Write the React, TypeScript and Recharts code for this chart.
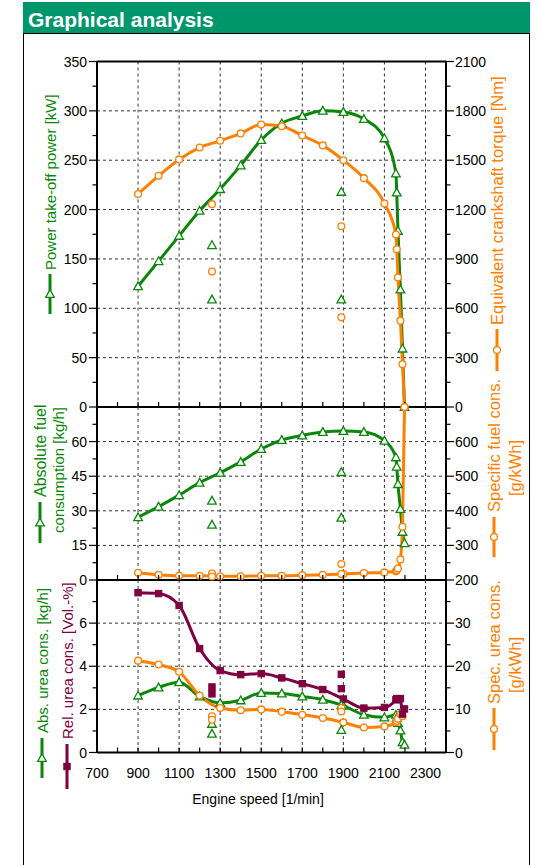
import React from 'react';
import { ComposedChart, Line, XAxis, YAxis, CartesianGrid, ReferenceLine } from 'recharts';

const FONT = '"Liberation Sans", Arial, Helvetica, sans-serif';
const GREEN = '#0A870A';
const ORANGE = '#FF8000';
const PURPLE = '#7F0040';
const HEADER = '#00966C';

// ---- main measurement series (full-load curve) ----
const rpm = [900, 1000, 1100, 1200, 1300, 1400, 1500, 1600, 1700, 1800, 1900, 2000, 2100, 2156, 2160, 2166, 2178, 2188, 2198];
const powerKw = [122.4, 147.8, 173.4, 198.8, 220.8, 244.8, 270.5, 287.4, 294.8, 300.2, 298.9, 291.8, 272.2, 236.7, 217.4, 178.5, 119, 59.2, 0];
const torqueNm = [1295, 1405, 1505, 1577, 1618, 1663, 1717, 1707, 1650, 1590, 1500, 1391, 1237, 1048, 959, 787, 525, 260, 0];
const absFuel = [27.2, 31.8, 36.8, 42.2, 46.5, 51.2, 56.8, 60.7, 62.7, 64.2, 64.6, 64.2, 60.4, 53.2, 49.1, 41.6, 30.8, 20.9, 16];
const specFuel = [221, 215, 212, 212, 211, 211, 212, 212, 213.5, 215, 217, 220, 222, 225, 228, 233, 259, 354, 700];
const absUrea = [2.64, 3.02, 3.26, 2.6, 2.3, 2.42, 2.76, 2.74, 2.6, 2.45, 2.17, 1.75, 1.63, 1.75, 1.6, 1.37, 1.02, 0.48, 0.36];
const relUrea = [7.41, 7.37, 6.82, 4.82, 3.8, 3.61, 3.66, 3.46, 3.19, 2.92, 2.48, 2.06, 2.09, 2.45, 2.5, 2.45, 2.5, 1.78, 2.02];
const specUrea = [21.3, 20.4, 18.7, 13.2, 10.3, 9.8, 10.0, 9.47, 8.77, 8.0, 6.98, 5.81, 6.05, 7.0, 7.3, 7.8, 8.9, 8.4, null];

// ---- part-load single points ----
const sideRpm = [1260, 1260, 1890, 1890];
const sidePower = [164, 109, 218, 109];
const sideTorque = [1233, 823, 1099, 545];
const sideAbsFuel = [34.4, 24.0, 46.8, 27.0];
const sideSpecFuel = [219, 210, 246, 217];
const sideAbsUrea = [1.33, 0.87, 2.2, 1.05];
const sideRelUrea = [3.04, 2.72, 3.63, 2.96];
const sideSpecUrea = [8.4, 7.6, 10.3, 9.5];

// ---- axes ----
const xTicks = [700, 800, 900, 1000, 1100, 1200, 1300, 1400, 1500, 1600, 1700, 1800, 1900, 2000, 2100, 2200, 2300, 2400];
const xLabels = [700, 900, 1100, 1300, 1500, 1700, 1900, 2100, 2300];
const xGrid = [900, 1100, 1300, 1500, 1700, 1900, 2100, 2300];

const topLTicks = [0, 25, 50, 75, 100, 125, 150, 175, 200, 225, 250, 275, 300, 325, 350];
const topLLabels = [0, 50, 100, 150, 200, 250, 300, 350];
const topLGrid = [50, 100, 150, 200, 250, 300];
const topRTicks = [0, 150, 300, 450, 600, 750, 900, 1050, 1200, 1350, 1500, 1650, 1800, 1950, 2100];
const topRLabels = [0, 300, 600, 900, 1200, 1500, 1800, 2100];

const midLTicks = [0, 7.5, 15, 22.5, 30, 37.5, 45, 52.5, 60, 67.5];
const midLLabels = [0, 15, 30, 45, 60];
const midLGrid = [15, 30, 45, 60];
const midRTicks = [200, 250, 300, 350, 400, 450, 500, 550, 600, 650];
const midRLabels = [200, 300, 400, 500, 600];

const botLTicks = [0, 1, 2, 3, 4, 5, 6, 7];
const botLLabels = [0, 2, 4, 6];
const botLGrid = [2, 4, 6];
const botRTicks = [0, 5, 10, 15, 20, 25, 30, 35];
const botRLabels = [0, 10, 20, 30];

const rows = rpm.map((r, i) => ({
  rpm: r,
  power: powerKw[i],
  torque: torqueNm[i],
  absFuel: absFuel[i],
  specFuel: specFuel[i],
  absUrea: absUrea[i],
  relUrea: relUrea[i],
  specUrea: specUrea[i],
}));
const sideRows = sideRpm.map((r, i) => ({
  rpm: r,
  power: sidePower[i],
  torque: sideTorque[i],
  absFuel: sideAbsFuel[i],
  specFuel: sideSpecFuel[i],
  absUrea: sideAbsUrea[i],
  relUrea: sideRelUrea[i],
  specUrea: sideSpecUrea[i],
}));

const W = 538;
const LEFT_W = 97;
const RIGHT_W = 92;

const bad = (p: any) => p == null || p.cx == null || p.cy == null || isNaN(p.cx) || isNaN(p.cy);

function triangle(cx: number, cy: number, color: string, key?: any) {
  const s = 4.3;
  return (
    <path key={key} d={`M${cx},${cy - s}L${cx + s},${cy + s * 0.8}L${cx - s},${cy + s * 0.8}Z`} fill="#fff" stroke={color} strokeWidth={1.3} />
  );
}
function circle(cx: number, cy: number, color: string, key?: any) {
  return <circle key={key} cx={cx} cy={cy} r={3.4} fill="#fff" stroke={color} strokeWidth={1.3} />;
}
function square(cx: number, cy: number, color: string, key?: any) {
  return <rect key={key} x={cx - 3.2} y={cy - 3.2} width={6.4} height={6.4} fill={color} stroke={color} />;
}

const triDot = (color: string) => (p: any) => (bad(p) ? <g key={`n${p.index}`} /> : triangle(p.cx, p.cy, color, `t${p.index}`));
const cirDot = (color: string) => (p: any) => (bad(p) ? <g key={`n${p.index}`} /> : circle(p.cx, p.cy, color, `c${p.index}`));
const sqDot = (color: string) => (p: any) => (bad(p) ? <g key={`n${p.index}`} /> : square(p.cx, p.cy, color, `s${p.index}`));

const yTick = (side: 'L' | 'R', labels: number[]) => (p: any) => {
  const v = p.payload.value;
  const major = labels.includes(v);
  const len = major ? 8 : 4.5;
  const x2 = side === 'L' ? p.x - len : p.x + len;
  return (
    <g>
      <line x1={p.x} y1={p.y} x2={x2} y2={p.y} stroke="#000" strokeWidth={1.2} />
      {major && (
        <text
          x={side === 'L' ? p.x - 10 : p.x + 9}
          y={p.y}
          dy="0.36em"
          textAnchor={side === 'L' ? 'end' : 'start'}
          fontSize={14}
          fontFamily={FONT}
          fill="#000"
        >
          {v}
        </text>
      )}
    </g>
  );
};

const xTick = (withLabels: boolean) => (p: any) => {
  const v = p.payload.value;
  const showLine = v !== 700 && v !== 2400;
  return (
    <g>
      {showLine && <line x1={p.x} y1={p.y} x2={p.x} y2={p.y - 5} stroke="#000" strokeWidth={1.2} />}
      {withLabels && xLabels.includes(v) && (
        <text x={p.x} y={p.y + 25} textAnchor="middle" fontSize={14} fontFamily={FONT} fill="#000">
          {v}
        </text>
      )}
    </g>
  );
};

const axisLine = { stroke: '#000', strokeWidth: 2 };
const gridProps = { stroke: '#333', strokeDasharray: '3 3', strokeWidth: 1 };

function XA({ labels }: { labels: boolean }) {
  return (
    <XAxis
      type="number"
      dataKey="rpm"
      domain={[700, 2400]}
      ticks={xTicks}
      interval={0}
      height={1}
      tickSize={0}
      tickMargin={0}
      axisLine={axisLine}
      tickLine={false}
      tick={xTick(labels)}
      allowDecimals
    />
  );
}

function TopPanel() {
  return (
    <ComposedChart width={W} height={425} data={rows} margin={{ top: 61.5, right: 0, bottom: 17, left: 0 }}>
      <CartesianGrid yAxisId="L" {...gridProps} horizontalValues={topLGrid} verticalValues={xGrid} />
      {XA({ labels: false })}
      <YAxis yAxisId="L" type="number" domain={[0, 350]} ticks={topLTicks} interval={0} width={LEFT_W} tickSize={0} tickMargin={0} axisLine={axisLine} tickLine={false} tick={yTick('L', topLLabels)} />
      <YAxis yAxisId="R" orientation="right" type="number" domain={[0, 2100]} ticks={topRTicks} interval={0} width={RIGHT_W} tickSize={0} tickMargin={0} axisLine={axisLine} tickLine={false} tick={yTick('R', topRLabels)} />
      <ReferenceLine yAxisId="L" y={350} stroke="#000" strokeWidth={2} />
      <Line yAxisId="L" dataKey="power" type="monotone" stroke={GREEN} strokeWidth={3} dot={triDot(GREEN)} activeDot={false} isAnimationActive={false} />
      <Line yAxisId="R" dataKey="torque" type="monotone" stroke={ORANGE} strokeWidth={3} dot={cirDot(ORANGE)} activeDot={false} isAnimationActive={false} />
      <Line yAxisId="L" data={sideRows} dataKey="power" stroke="none" dot={triDot(GREEN)} activeDot={false} isAnimationActive={false} />
      <Line yAxisId="R" data={sideRows} dataKey="torque" stroke="none" dot={cirDot(ORANGE)} activeDot={false} isAnimationActive={false} />
    </ComposedChart>
  );
}

function MidPanel() {
  return (
    <ComposedChart width={W} height={200} data={rows} margin={{ top: 17, right: 0, bottom: 9, left: 0 }}>
      <CartesianGrid yAxisId="L" {...gridProps} horizontalValues={midLGrid} verticalValues={xGrid} />
      {XA({ labels: false })}
      <YAxis yAxisId="L" type="number" domain={[0, 75]} ticks={midLTicks} interval={0} width={LEFT_W} tickSize={0} tickMargin={0} axisLine={axisLine} tickLine={false} tick={yTick('L', midLLabels)} />
      <YAxis yAxisId="R" orientation="right" type="number" domain={[200, 700]} ticks={midRTicks} interval={0} width={RIGHT_W} tickSize={0} tickMargin={0} axisLine={axisLine} tickLine={false} tick={yTick('R', midRLabels)} />
      <Line yAxisId="L" dataKey="absFuel" type="monotone" stroke={GREEN} strokeWidth={3} dot={triDot(GREEN)} activeDot={false} isAnimationActive={false} />
      <Line yAxisId="R" dataKey="specFuel" type="monotone" stroke={ORANGE} strokeWidth={3} dot={cirDot(ORANGE)} activeDot={false} isAnimationActive={false} />
      <Line yAxisId="L" data={sideRows} dataKey="absFuel" stroke="none" dot={triDot(GREEN)} activeDot={false} isAnimationActive={false} />
      <Line yAxisId="R" data={sideRows} dataKey="specFuel" stroke="none" dot={cirDot(ORANGE)} activeDot={false} isAnimationActive={false} />
    </ComposedChart>
  );
}

function BotPanel() {
  return (
    <ComposedChart width={W} height={295} data={rows} margin={{ top: 10, right: 0, bottom: 111.5, left: 0 }}>
      <CartesianGrid yAxisId="L" {...gridProps} horizontalValues={botLGrid} verticalValues={xGrid} />
      {XA({ labels: true })}
      <YAxis yAxisId="L" type="number" domain={[0, 8]} ticks={botLTicks} interval={0} width={LEFT_W} tickSize={0} tickMargin={0} axisLine={axisLine} tickLine={false} tick={yTick('L', botLLabels)} />
      <YAxis yAxisId="R" orientation="right" type="number" domain={[0, 40]} ticks={botRTicks} interval={0} width={RIGHT_W} tickSize={0} tickMargin={0} axisLine={axisLine} tickLine={false} tick={yTick('R', botRLabels)} />
      <Line yAxisId="L" dataKey="absUrea" type="monotone" stroke={GREEN} strokeWidth={3} dot={triDot(GREEN)} activeDot={false} isAnimationActive={false} />
      <Line yAxisId="R" dataKey="specUrea" type="monotone" stroke={ORANGE} strokeWidth={3} dot={cirDot(ORANGE)} activeDot={false} isAnimationActive={false} connectNulls={false} />
      <Line yAxisId="L" dataKey="relUrea" type="monotone" stroke={PURPLE} strokeWidth={3} dot={sqDot(PURPLE)} activeDot={false} isAnimationActive={false} />
      <Line yAxisId="L" data={sideRows} dataKey="absUrea" stroke="none" dot={triDot(GREEN)} activeDot={false} isAnimationActive={false} />
      <Line yAxisId="R" data={sideRows} dataKey="specUrea" stroke="none" dot={cirDot(ORANGE)} activeDot={false} isAnimationActive={false} />
      <Line yAxisId="L" data={sideRows} dataKey="relUrea" stroke="none" dot={sqDot(PURPLE)} activeDot={false} isAnimationActive={false} />
    </ComposedChart>
  );
}

type TitleProps = {
  x: number;
  y: number;
  len: number;
  gap: number;
  color: string;
  text: string;
  marker: 'tri' | 'cir' | 'sq';
  size?: number;
};

function AxisTitle({ x, y, len, gap, color, text, marker, size = 15 }: TitleProps) {
  const my = y - len / 2;
  return (
    <g>
      <line x1={x} y1={y} x2={x} y2={y - len} stroke={color} strokeWidth={3} />
      {marker === 'tri' && triangle(x, my, color)}
      {marker === 'cir' && circle(x, my, color)}
      {marker === 'sq' && square(x, my, color)}
      <text
        transform={`translate(${x},${y - len - gap}) rotate(-90)`}
        x={0}
        y={0}
        dominantBaseline="central"
        fill={color}
        fontSize={size}
        fontFamily={FONT}
      >
        {text}
      </text>
    </g>
  );
}

function PlainTitle({ x, cy, color, text, size = 15 }: { x: number; cy: number; color: string; text: string; size?: number }) {
  return (
    <text
      transform={`translate(${x},${cy}) rotate(-90)`}
      x={0}
      y={0}
      dominantBaseline="central"
      textAnchor="middle"
      fill={color}
      fontSize={size}
      fontFamily={FONT}
    >
      {text}
    </text>
  );
}

export default function App() {
  return (
    <div style={{ position: 'absolute', left: 0, top: 0, width: 538, height: 865, background: '#fff', overflow: 'hidden' }}>
      <svg width={538} height={865} style={{ position: 'absolute', left: 0, top: 0 }}>
        <rect x={23} y={2} width={507} height={31} fill={HEADER} />
        <text x={28} y={27} fill="#fff" fontSize={21} fontWeight="bold" fontFamily={FONT}>
          Graphical analysis
        </text>
        <rect x={23.5} y={33.5} width={506} height={900} fill="none" stroke="#000" strokeWidth={1} />
      </svg>
      <div style={{ position: 'absolute', left: 0, top: 0 }}>
        <TopPanel />
      </div>
      <div style={{ position: 'absolute', left: 0, top: 390 }}>
        <MidPanel />
      </div>
      <div style={{ position: 'absolute', left: 0, top: 570 }}>
        <BotPanel />
      </div>
      <svg width={538} height={865} style={{ position: 'absolute', left: 0, top: 0, pointerEvents: 'none' }}>
        <AxisTitle x={50} y={314} len={40} gap={4} color={GREEN} text="Power take-off power [kW]" marker="tri" />
        <AxisTitle x={497} y={371} len={42} gap={4} color={ORANGE} text="Equivalent crankshaft torque [Nm]" marker="cir" size={16.5} />
        <AxisTitle x={40} y={543} len={41} gap={5} color={GREEN} text="Absolute fuel" marker="tri" size={16} />
        <PlainTitle x={58} cy={470} color={GREEN} text="consumption [kg/h]" />
        <AxisTitle x={494} y={557} len={40} gap={5} color={ORANGE} text="Specific fuel cons." marker="cir" size={16.5} />
        <PlainTitle x={515} cy={468} color={ORANGE} text="[g/kWh]" size={16.5} />
        <AxisTitle x={494} y={750} len={42} gap={4} color={ORANGE} text="Spec. urea cons." marker="cir" size={16.5} />
        <PlainTitle x={515} cy={665} color={ORANGE} text="[g/kWh]" size={16.5} />
        <AxisTitle x={42} y={778} len={40} gap={5} color={GREEN} text="Abs. urea cons. [kg/h]" marker="tri" />
        <AxisTitle x={67} y={789} len={45} gap={5} color={PURPLE} text="Rel. urea cons. [Vol.-%]" marker="sq" />
        <text x={258} y={804} textAnchor="middle" fontSize={14} fontFamily={FONT} fill="#000">
          Engine speed [1/min]
        </text>
      </svg>
    </div>
  );
}
